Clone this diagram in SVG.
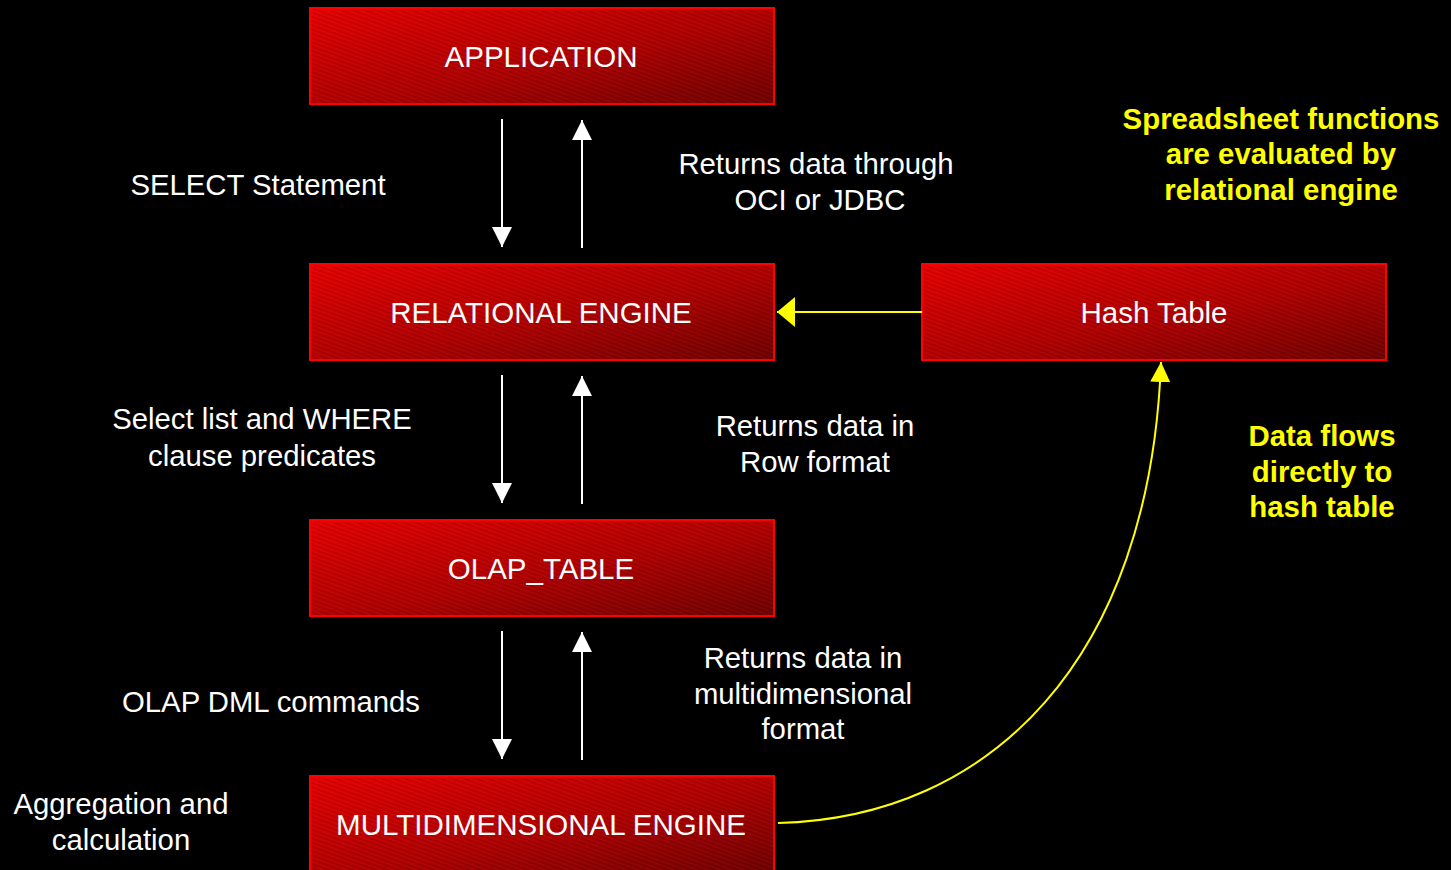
<svg xmlns="http://www.w3.org/2000/svg" width="1451" height="870" viewBox="0 0 1451 870">
  <defs>
    <linearGradient id="boxFill" x1="0" y1="0" x2="1" y2="1">
      <stop offset="0" stop-color="#e80000"/>
      <stop offset="0.55" stop-color="#b00000"/>
      <stop offset="1" stop-color="#700000"/>
    </linearGradient>
    <pattern id="weave" width="4" height="4" patternUnits="userSpaceOnUse" patternTransform="rotate(20)">
      <line x1="0" y1="1" x2="4" y2="1" stroke="#000" stroke-opacity="0.13" stroke-width="1.2"/>
      <line x1="0" y1="3" x2="4" y2="3" stroke="#fff" stroke-opacity="0.05" stroke-width="0.8"/>
    </pattern>
    <marker id="whiteHead" viewBox="0 0 20 20" refX="20" refY="10" markerWidth="20" markerHeight="20" markerUnits="userSpaceOnUse" orient="auto">
      <path d="M0,0 L20,10 L0,20 Z" fill="#fff"/>
    </marker>
    <marker id="yellowBig" viewBox="0 0 18 30" refX="18" refY="15" markerWidth="18" markerHeight="30" markerUnits="userSpaceOnUse" orient="auto">
      <path d="M0,0 L18,15 L0,30 Z" fill="#ffff00"/>
    </marker>
    <marker id="yellowSmall" viewBox="0 0 20 20" refX="20" refY="10" markerWidth="20" markerHeight="20" markerUnits="userSpaceOnUse" orient="auto">
      <path d="M0,0 L20,10 L0,20 Z" fill="#ffff00"/>
    </marker>
  </defs>
  <style>
    .box { fill: url(#boxFill); stroke: #ff0000; stroke-width: 2; }
    .tex { fill: url(#weave); stroke: none; }
    .btxt { font-family: "Liberation Sans", Arial, sans-serif; font-size: 29.5px; fill: #fff; text-anchor: middle; }
    .lbl { font-family: "Liberation Sans", Arial, sans-serif; font-size: 29.3px; fill: #fff; text-anchor: middle; }
    .note { font-family: "Liberation Sans", Arial, sans-serif; font-size: 29.4px; font-weight: bold; fill: #ffff00; text-anchor: middle; }
    .wl { stroke: #fff; stroke-width: 2; fill: none; }
    .yl { stroke: #ffff00; stroke-width: 2; fill: none; }
  </style>

  <rect width="1451" height="870" fill="#000"/>

  <g id="application">
    <rect class="box" x="310" y="8" width="464" height="96"/>
    <rect class="tex" x="311" y="9" width="462" height="94"/>
    <text class="btxt" x="541" y="67">APPLICATION</text>
  </g>

  <g id="relational-engine">
    <rect class="box" x="310" y="264" width="464" height="96"/>
    <rect class="tex" x="311" y="265" width="462" height="94"/>
    <text class="btxt" x="541" y="323">RELATIONAL ENGINE</text>
  </g>

  <g id="hash-table">
    <rect class="box" x="922" y="264" width="464" height="96"/>
    <rect class="tex" x="923" y="265" width="462" height="94"/>
    <text class="btxt" x="1154" y="323">Hash Table</text>
  </g>

  <g id="olap-table">
    <rect class="box" x="310" y="520" width="464" height="96"/>
    <rect class="tex" x="311" y="521" width="462" height="94"/>
    <text class="btxt" x="541" y="579">OLAP_TABLE</text>
  </g>

  <g id="multidimensional-engine">
    <rect class="box" x="310" y="776" width="464" height="98"/>
    <rect class="tex" x="311" y="777" width="462" height="96"/>
    <text class="btxt" x="541" y="835">MULTIDIMENSIONAL ENGINE</text>
  </g>

  <g id="connectors">
    <line class="wl" x1="502" y1="119" x2="502" y2="247" marker-end="url(#whiteHead)"/>
    <line class="wl" x1="582" y1="248" x2="582" y2="120" marker-end="url(#whiteHead)"/>
    <line class="wl" x1="502" y1="375" x2="502" y2="503" marker-end="url(#whiteHead)"/>
    <line class="wl" x1="582" y1="504" x2="582" y2="376" marker-end="url(#whiteHead)"/>
    <line class="wl" x1="502" y1="631" x2="502" y2="759" marker-end="url(#whiteHead)"/>
    <line class="wl" x1="582" y1="760" x2="582" y2="632" marker-end="url(#whiteHead)"/>
    <line class="yl" x1="922" y1="312" x2="777" y2="312" marker-end="url(#yellowBig)"/>
    <path class="yl" d="M778,823 C990,818 1150,660 1161,362" marker-end="url(#yellowSmall)"/>
  </g>

  <g id="labels">
    <text class="lbl" x="258" y="195">SELECT Statement</text>
    <text class="lbl" x="816" y="174">Returns data through</text>
    <text class="lbl" x="820" y="210">OCI or JDBC</text>
    <text class="lbl" x="262" y="429">Select list and WHERE</text>
    <text class="lbl" x="262" y="466">clause predicates</text>
    <text class="lbl" x="815" y="436">Returns data in</text>
    <text class="lbl" x="815" y="472">Row format</text>
    <text class="lbl" x="271" y="712">OLAP DML commands</text>
    <text class="lbl" x="803" y="668">Returns data in</text>
    <text class="lbl" x="803" y="704">multidimensional</text>
    <text class="lbl" x="803" y="739">format</text>
    <text class="lbl" x="121" y="814">Aggregation and</text>
    <text class="lbl" x="121" y="850">calculation</text>
  </g>

  <g id="notes">
    <text class="note" x="1281" y="129">Spreadsheet functions</text>
    <text class="note" x="1281" y="164">are evaluated by</text>
    <text class="note" x="1281" y="200">relational engine</text>
    <text class="note" x="1322" y="446">Data flows</text>
    <text class="note" x="1322" y="482">directly to</text>
    <text class="note" x="1322" y="517">hash table</text>
  </g>
</svg>
